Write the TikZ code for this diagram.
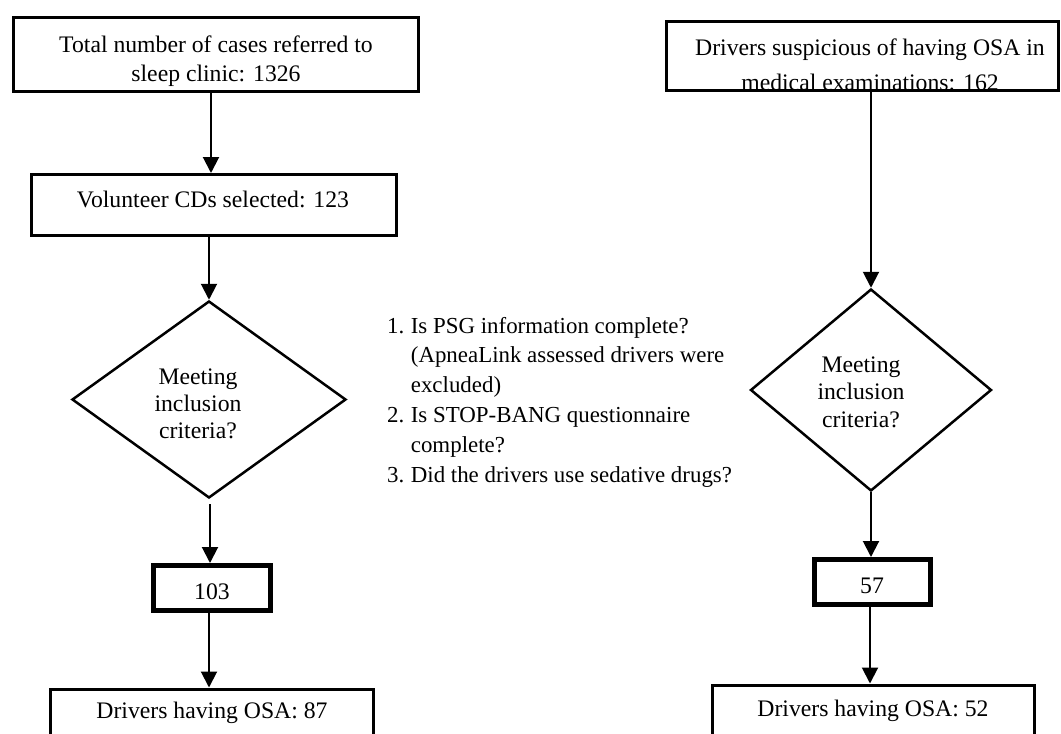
\documentclass[tikz,border=0pt]{standalone}
\usepackage{fontspec}
\setmainfont{Liberation Serif}
\usetikzlibrary{shapes.geometric,arrows.meta}
\newcommand\bodyfs{\fontsize{23.7}{29}\selectfont}
\begin{document}
\begin{tikzpicture}[x=1pt,y=-1pt,
  every node/.style={font=\bodyfs},
  box/.style={draw,line width=3pt,rectangle,inner sep=0pt},
  thickbox/.style={draw,line width=5pt,rectangle,inner sep=0pt},
  dia/.style={draw,line width=2.5pt,diamond,inner sep=0pt},
  txt/.style={anchor=base,inner sep=0pt},
  arr/.style={line width=2pt,-{Triangle[length=16pt,width=16pt]}}]
\useasboundingbox (0,0) rectangle (1061,734);
% ---------- left column
\node[box,minimum width=405pt,minimum height=74pt] (b1) at (216,54.5) {};
\node[txt] (b1t) at (216,52) {\begin{tabular}[t]{@{}c@{}}Total number of cases referred to\\sleep clinic: 1326\end{tabular}};
\node[box,minimum width=365pt,minimum height=61pt] (b2) at (214,205) {};
\node[txt] (b2t) at (213,207) {Volunteer CDs selected: 123};
\node[dia,minimum width=274pt,minimum height=197pt] (d1) at (209,399.5) {};
\node[txt] (d1t) at (198,384) {\fontsize{23.7}{27}\selectfont\begin{tabular}[t]{@{}c@{}}Meeting\\inclusion\\criteria?\end{tabular}};
\node[thickbox,minimum width=117pt,minimum height=45pt] (n103) at (212,588) {};
\node[txt] (n103t) at (212,599) {103};
\node[box,minimum width=323pt,minimum height=70pt,anchor=north] (b3) at (212,687.5) {};
\node[txt] (b3t) at (212,718) {Drivers having OSA: 87};
% ---------- right column
\begin{scope}
\clip (662,17) rectangle (1061,90);
\node[txt] (r1t) at (870,55) {\fontsize{23.7}{35}\selectfont\begin{tabular}[t]{@{}c@{}}Drivers suspicious of having OSA in\\medical examinations: 162\end{tabular}};
\end{scope}
\node[box,minimum width=392pt,minimum height=69pt] (r1) at (862,56) {};
\node[dia,minimum width=241pt,minimum height=202pt] (d2) at (871,390) {};
\node[txt] (d2t) at (861,372) {\fontsize{23.7}{27.5}\selectfont\begin{tabular}[t]{@{}c@{}}Meeting\\inclusion\\criteria?\end{tabular}};
\node[thickbox,minimum width=116pt,minimum height=45pt] (n57) at (872.5,582) {};
\node[txt] (n57t) at (872,593) {57};
\node[box,minimum width=322pt,minimum height=70pt,anchor=north] (r3) at (873.5,683.5) {};
\node[txt] (r3t) at (873,716) {Drivers having OSA: 52};
% ---------- criteria list
\node[anchor=base west,inner sep=0pt] (crit) at (387,333)
{\fontsize{22.9}{29.8}\selectfont\begin{tabular}[t]{@{}l@{\hspace{6.5pt}}l@{}}
1. & Is PSG information complete?\\
   & (ApneaLink assessed drivers were\\
   & excluded)\\
2. & Is STOP-BANG questionnaire\\
   & complete?\\
3. & Did the drivers use sedative drugs?
\end{tabular}};
% ---------- connectors
\draw[arr] (b1.south -| 211,0) -- (b2.north -| 211,0);
\draw[arr] (b2.south -| d1.north) -- (d1.north);
\draw[arr] ([yshift=-5pt]d1.south -| 210,0) -- (n103.north -| 210,0);
\draw[arr] (n103.south -| 209,0) -- (b3.north -| 209,0);
\draw[arr] (r1.south -| d2.north) -- (d2.north);
\draw[arr] (d2.south) -- (n57.north -| d2.south);
\draw[arr] (n57.south -| 870,0) -- (r3.north -| 870,0);
\end{tikzpicture}
\end{document}
